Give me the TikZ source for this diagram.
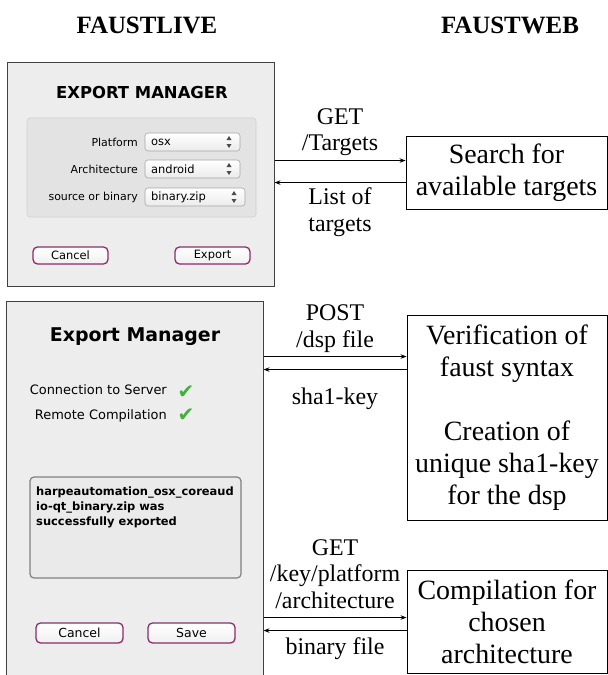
\documentclass[tikz,border=0pt]{standalone}
\usepackage{fontspec}
\setmainfont{Liberation Serif}
\newfontfamily\guifont{DejaVu Sans}
\usetikzlibrary{arrows.meta}
\definecolor{guibg}{HTML}{EDEDED}
\definecolor{groupbg}{HTML}{E3E3E3}
\definecolor{msgbg}{HTML}{EAEAEA}
\definecolor{btnpurple}{HTML}{8C2A6A}
\definecolor{okgreen}{HTML}{3FB23A}
\tikzset{
  head/.style={font=\bfseries\fontsize{25}{30}\selectfont},
  panel/.style={draw=black!75, fill=guibg, line width=1bp, inner sep=0},
  gui/.style={font=\guifont\fontsize{11}{13}\selectfont, inner sep=0},
  guititle/.style={font=\guifont\bfseries\fontsize{16.5}{20}\selectfont, inner sep=0},
  group/.style={draw=black!18, fill=groupbg, rounded corners=3bp, line width=0.6bp},
  popup/.style={draw=black!35, line width=0.6bp, rounded corners=3bp, top color=white, bottom color=black!8},
  btn/.style={draw=btnpurple, line width=1.3bp, rounded corners=4.5bp, top color=white, bottom color=black!6,
    font=\guifont\fontsize{11.5}{13}\selectfont, inner sep=0},
  msg/.style={draw=black!50, line width=1.2bp, rounded corners=4bp, fill=msgbg},
  tick/.style={text=okgreen, font=\guifont\fontsize{20}{20}\selectfont, inner sep=0},
  webbox/.style={draw, line width=0.9bp, align=center, font=\fontsize{28}{32}\selectfont, inner sep=0},
  lbl/.style={align=center, font=\fontsize{24}{27}\selectfont, inner sep=2bp},
  call/.style={-{Stealth[length=6bp,width=4.5bp]}, line width=0.9bp}
}
\begin{document}
\begin{tikzpicture}[x=1bp,y=-1bp]
\useasboundingbox (0,0) rectangle (608,675);
% headers
\node[head] (hlive) at (147,25) {FAUSTLIVE};
\node[head] (hweb) at (510,25) {FAUSTWEB};

% faustlive: first window
\node[panel, minimum width=266bp, minimum height=223bp] (live1) at (141,174.5) {};
\node[guititle] (title1) at (142,93) {EXPORT MANAGER};
\draw[group] (27,118) rectangle (256,217);
\foreach \lab/\val/\yy/\xr [count=\i] in {Platform/osx/142/240,Architecture/android/169/240,source or binary/binary.zip/197/245}{
  \node[gui, anchor=east] (lab\i) at (138,\yy) {\lab};
  \draw[popup] (145,\yy-9) rectangle (\xr,\yy+9);
  \node[gui, font=\guifont\fontsize{11.5}{13}\selectfont, anchor=west] (val\i) at (151,\yy) {\val};
  \fill[black!70] (\xr-13.5,\yy-2) -- (\xr-8.5,\yy-2) -- (\xr-11,\yy-6) -- cycle
                  (\xr-13.5,\yy+2) -- (\xr-8.5,\yy+2) -- (\xr-11,\yy+6) -- cycle;
}
\node[btn, minimum width=75bp, minimum height=17bp] (cancel1) at (70.5,255.5) {Cancel};
\node[btn, minimum width=75bp, minimum height=17bp] (export1) at (212.5,255.5) {Export};

% faustlive: second window
\node[panel, minimum width=256bp, minimum height=389bp] (live2) at (135,495.5) {};
\node[guititle, font=\guifont\bfseries\fontsize{19}{22}\selectfont] (title2) at (135,337) {Export Manager};
\node[gui, font=\guifont\fontsize{13}{15}\selectfont, anchor=east] (conn) at (167,390) {Connection to Server};
\node[tick] (tick1) at (186,392) {✔};
\node[gui, font=\guifont\fontsize{13}{15}\selectfont, anchor=east] (remote) at (167,416) {Remote Compilation};
\node[tick] (tick2) at (186,415) {✔};
\draw[msg] (30,477) rectangle (241,578);
\node[gui, font=\guifont\bfseries\fontsize{11.5}{15}\selectfont, anchor=north west, align=left] (msgtxt) at (36,487)
  {harpeautomation\_osx\_coreaud\\io-qt\_binary.zip was\\successfully exported};
\node[btn, font=\guifont\fontsize{12.5}{15}\selectfont, minimum width=87bp, minimum height=20bp] (cancel2) at (79.5,633) {Cancel};
\node[btn, font=\guifont\fontsize{12.5}{15}\selectfont, minimum width=87bp, minimum height=20bp] (save2) at (191.5,633) {Save};

% faustweb
\node[webbox, minimum width=201bp, minimum height=73bp] (search) at (506.5,172.5) {Search for\\available targets};
\node[webbox, minimum width=200bp, minimum height=205bp] (verif) at (507,417.5)
  {Verification of\\faust syntax\\[32bp]Creation of\\unique sha1-key\\for the dsp};
\node[webbox, minimum width=200bp, minimum height=103bp] (compile) at (507,621.5) {Compilation for\\chosen\\architecture};

% requests and answers
\coordinate (q1) at ([yshift=-25bp]search.north west);
\coordinate (r1) at ([yshift=-47bp]search.north west);
\coordinate (q2) at ([yshift=-42bp]verif.north west);
\coordinate (r2) at ([yshift=-55bp]verif.north west);
\coordinate (q3) at ([yshift=-48bp]compile.north west);
\coordinate (r3) at ([yshift=-61bp]compile.north west);
\draw[call] (q1 -| live1.east) -- node[lbl, above=2bp] (gettargets) {GET\\/Targets} (q1);
\draw[call] (r1) -- node[lbl, below=3bp] (listtargets) {List of\\targets} (r1 -| live1.east);
\draw[call] (q2 -| live2.east) -- node[lbl, above=2bp] (postdsp) {POST\\/dsp file} (q2);
\draw[call] (r2) -- node[lbl, below=16bp] (shakey) {sha1-key} (r2 -| live2.east);
\draw[call] (q3 -| live2.east) -- node[lbl, above=6bp] (getbinary) {GET\\/key/platform\\/architecture} (q3);
\draw[call] (r3) -- node[lbl, below=5bp] (binfile) {binary file} (r3 -| live2.east);
\end{tikzpicture}
\end{document}
